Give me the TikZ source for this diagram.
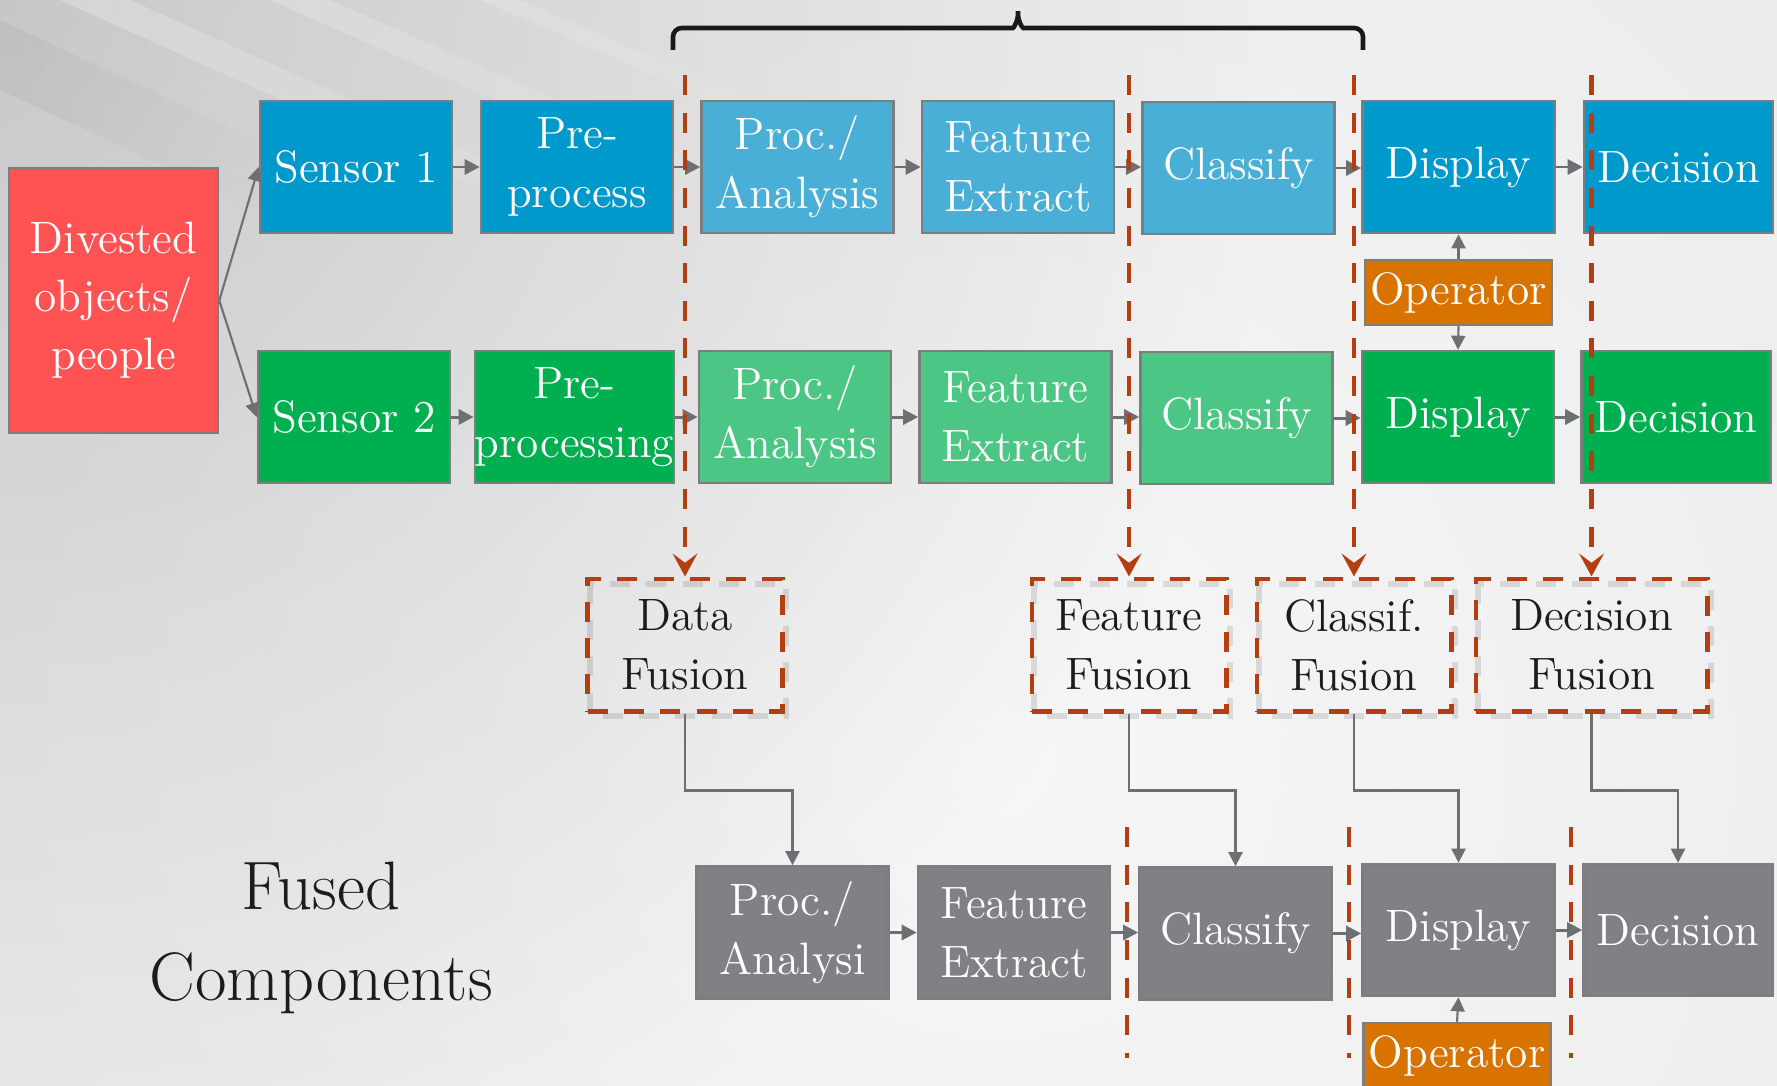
\documentclass[tikz,border=0pt]{standalone}
\usepackage{fontspec}
\usetikzlibrary{arrows.meta,fadings}

\definecolor{bgl}{RGB}{246,246,246}
\definecolor{bgd}{RGB}{222,222,222}
\definecolor{bluedk}{RGB}{0,153,204}
\definecolor{bluelt}{RGB}{74,175,214}
\definecolor{greendk}{RGB}{0,176,80}
\definecolor{greenlt}{RGB}{76,198,132}
\definecolor{slate}{RGB}{128,129,133}
\definecolor{amber}{RGB}{216,115,0}
\definecolor{coral}{RGB}{255,82,82}
\definecolor{edge}{RGB}{125,125,128}
\definecolor{rust}{RGB}{180,62,16}
\definecolor{ink}{RGB}{28,28,28}
\definecolor{wire}{RGB}{110,111,115}

\tikzfading[name=cornerfade, inner color=transparent!0, outer color=transparent!100]

\begin{document}
\begin{tikzpicture}[x=0.01cm, y=-0.01cm,
  boxfont/.style={font=\fontsize{12.9}{16.8}\selectfont},
  blk/.style={draw=edge, line width=0.7pt, minimum width=1.92cm, minimum height=1.32cm,
    inner sep=0pt, align=center, text=white, boxfont},
  bd/.style={blk, fill=bluedk},
  bl/.style={blk, fill=bluelt},
  gd/.style={blk, fill=greendk},
  gl/.style={blk, fill=greenlt},
  gy/.style={blk, fill=slate},
  opbox/.style={blk, fill=amber, minimum width=1.87cm, minimum height=0.65cm},
  fuse/.style={draw=rust, line width=1.4pt, dash pattern=on 5.7pt off 4.6pt,
    minimum width=1.94cm, minimum height=1.32cm, inner sep=0pt, align=center,
    text=ink, boxfont},
  flow/.style={draw=wire, line width=0.85pt, -{Triangle[length=4.3pt,width=4.3pt]}},
  link/.style={draw=wire, line width=0.6pt, -{Triangle[length=4pt,width=4pt]}},
  cut/.style={draw=rust, line width=1.4pt, dash pattern=on 5.7pt off 5pt},
  cutarrow/.style={cut, -{Stealth[length=6.5pt,width=7pt,inset=2.6pt]}},
  brace/.style={draw=black!90, line width=1.3pt, rounded corners=2.5pt},
  shadowline/.style={draw=black, draw opacity=0.11, line width=1.8pt, dash pattern=on 5.7pt off 4.6pt}
]
\useasboundingbox (0,0) rectangle (1777,1085);
\clip (0,0) rectangle (1777,1085);

% ---- backdrop ----
\shade[inner color=bgl, outer color=bgd] (1000,760) circle (2700);
\fill[black, opacity=0.15, path fading=cornerfade] (0,0) circle (1300);
\fill[white, opacity=0.25, path fading=east] (60,0) -- (130,0) -- (640,230) -- (570,230) -- cycle;
\fill[white, opacity=0.22, path fading=east] (270,0) -- (330,0) -- (760,190) -- (700,190) -- cycle;
\fill[white, opacity=0.18, path fading=east] (480,0) -- (520,0) -- (820,130) -- (780,130) -- cycle;
\fill[black, opacity=0.04, path fading=east] (0,20) -- (0,90) -- (300,230) -- (300,160) -- cycle;

% ---- source ----
\node[blk, fill=coral, minimum width=2.09cm, minimum height=2.65cm,
  font=\fontsize{12.9}{16.5}\selectfont] (obj) at (113.5,300.5) {Divested\\objects/\\people};

% ---- sensor chain 1 ----
\node[bd] (s1)  at (356,167)    {Sensor 1};
\node[bd] (pp1) at (577,167)    {Pre-\\process};
\node[bl] (pa1) at (797.5,167)  {Proc./\\Analysis};
\node[bl] (fe1) at (1018,167)   {Feature\\Extract};
\node[bl] (cl1) at (1238.5,168) {Classify};
\node[bd] (di1) at (1458.5,167) {Display};
\node[bd, minimum width=1.89cm] (de1) at (1678.5,167) {Decision};

% ---- sensor chain 2 ----
\node[gd] (s2)  at (354,417)    {Sensor 2};
\node[gd] (pp2) at (574.5,417)  {Pre-\\processing};
\node[gl] (pa2) at (795,417)    {Proc./\\Analysis};
\node[gl] (fe2) at (1015.5,417) {Feature\\Extract};
\node[gl] (cl2) at (1236.5,418) {Classify};
\node[gd] (di2) at (1458,417)   {Display};
\node[gd, minimum width=1.89cm] (de2) at (1676,417) {Decision};

\node[opbox] (op1) at (1458.5,292.5) {Operator};

% ---- fused chain ----
\node[gy] (pa3) at (792.5,932.5) {Proc./\\Analysi};
\node[gy] (fe3) at (1014,932.5)  {Feature\\Extract};
\node[gy] (cl3) at (1235.5,933.5) {Classify};
\node[gy] (di3) at (1458.5,930)  {Display};
\node[gy, minimum width=1.89cm] (de3) at (1678,930) {Decision};
\node[opbox, minimum height=0.66cm] (op2) at (1457,1056) {Operator};

\node[font=\fontsize{19.5}{25.8}\selectfont, text=ink, align=center] (fc) at (321,938) {Fused\\Components};

% ---- chain arrows ----
\draw[link] (obj.east) -- (s1.west);
\draw[link] (obj.east) -- (s2.west);
\foreach \a/\b in {s1/pp1,pp1/pa1,pa1/fe1,fe1/cl1,cl1/di1,di1/de1,
                   s2/pp2,pp2/pa2,pa2/fe2,fe2/cl2,cl2/di2,di2/de2,
                   pa3/fe3,fe3/cl3,cl3/di3,di3/de3}
  \draw[flow] (\a.east) -- (\a.east -| \b.west);
\draw[link] (op1.north) -- (di1.south);
\draw[link] (op1.south) -- (di2.north);
\draw[link] (op2.north) -- (di3.south);

% ---- fusion points ----
\draw[shadowline] (590,584) rectangle (786,716);
\draw[shadowline] (1034,584) rectangle (1230,716);
\draw[shadowline] (1259,584) rectangle (1455,716);
\draw[shadowline] (1478,584) rectangle (1711,716);
\node[fuse] (dfu)  at (685,645)    {Data\\Fusion};
\node[fuse] (ffu)  at (1129,645)   {Feature\\Fusion};
\node[fuse] (cfu)  at (1354,645)   {Classif.\\Fusion};
\node[fuse, minimum width=2.31cm] (dcfu) at (1591.5,645) {Decision\\Fusion};

\coordinate (t1) at (685,75);
\coordinate (t2) at (1129,75);
\coordinate (t3) at (1354,75);
\coordinate (t4) at (1591.5,75);
\draw[cutarrow] (t1) -- (dfu.north);
\draw[cutarrow] (t2) -- (ffu.north);
\draw[cutarrow] (t3) -- (cfu.north);
\draw[cutarrow] (t4) -- (dcfu.north);

\draw[link] (dfu.south)  -- ++(0,77) -| (pa3.north);
\draw[link] (ffu.south)  -- ++(0,77) -| (cl3.north);
\draw[link] (cfu.south)  -- ++(0,77) -| (di3.north);
\draw[link] (dcfu.south) -- ++(0,77) -| (de3.north);

% ---- cut lines in the fused chain ----
\coordinate (u1) at (1127,827);  \coordinate (v1) at (1127,1058);
\coordinate (u2) at (1349,827);  \coordinate (v2) at (1349,1058);
\coordinate (u3) at (1571,827);  \coordinate (v3) at (1571,1058);
\draw[cut] (u1) -- (v1);
\draw[cut] (u2) -- (v2);
\draw[cut] (u3) -- (v3);

% ---- brace over the shared stages ----
\coordinate (bL) at (673,50);
\coordinate (bR) at (1363,50);
\coordinate (bT) at (1018,6);
\draw[brace] (bL) |- (1004,28) .. controls (1014,28) and (1018,20) .. (bT)
  .. controls (1018,20) and (1022,28) .. (1032,28) -| (bR);
\end{tikzpicture}
\end{document}
